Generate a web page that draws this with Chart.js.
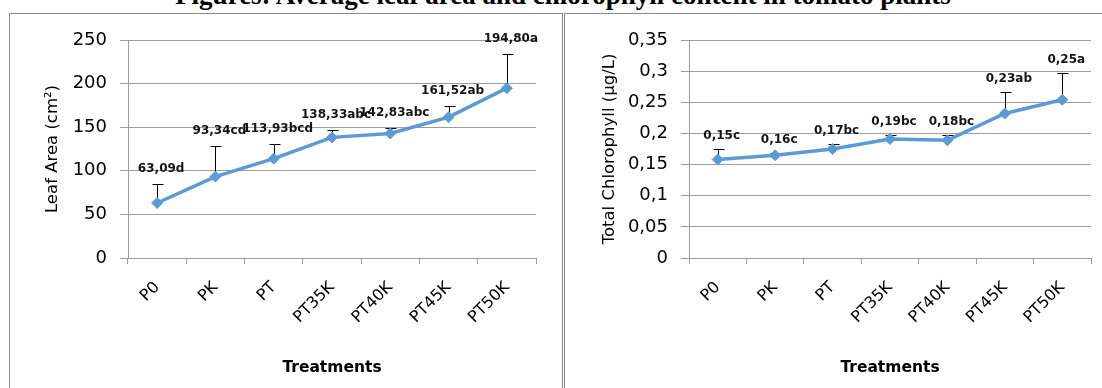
<!DOCTYPE html>
<html>
<head>
<meta charset="utf-8">
<script src="https://cdn.jsdelivr.net/npm/chart.js"></script>
<style>
  body { margin: 0; background: #fff; width: 1102px; height: 388px; overflow: hidden; position: relative; }
  .panel { position: absolute; top: 13px; height: 400px; border: 1px solid #8a8a8a; box-sizing: border-box; background: #fff; }
  #leftPanel { left: 9px; width: 554px; }
  #rightPanel { left: 564px; width: 560px; }
  #title { position: absolute; left: 12px; top: -18px; width: 1102px; text-align: center; white-space: nowrap;
           font: bold 27px "Liberation Serif", "Times New Roman", serif; line-height: 27px; }
  canvas { position: absolute; }
</style>
</head>
<body>
<div id="title">Figures: Average leaf area and chlorophyll content in tomato plants</div>
<div id="leftPanel" class="panel"></div>
<div id="rightPanel" class="panel"></div>
<canvas id="leafChart" width="552" height="374" style="left:10px;top:14px"></canvas>
<canvas id="chlChart" width="537" height="374" style="left:565px;top:14px"></canvas>
<script>
const treatments = ['P0', 'PK', 'PT', 'PT35K', 'PT40K', 'PT45K', 'PT50K'];

const leafArea = [63.09, 93.34, 113.93, 138.33, 142.83, 161.52, 194.80];
const leafErr = [22, 35, 17, 9, 6, 13, 39];
const leafLabels = ['63,09d', '93,34cd', '113,93bcd', '138,33abc', '142,83abc', '161,52ab', '194,80a'];

const chlorophyll = [0.158, 0.165, 0.175, 0.191, 0.189, 0.232, 0.254];
const chlErr = [0.017, 0.004, 0.008, 0.006, 0.008, 0.035, 0.043];
const chlLabels = ['0,15c', '0,16c', '0,17bc', '0,19bc', '0,18bc', '0,23ab', '0,25a'];

const FONT = '"DejaVu Sans", "Noto Sans", sans-serif';
const LINE_BLUE = '#5b9bd5';
const GRID = '#9c9c9c';

// upper error bars behind the line, letter labels on top
const errorBars = {
    id: 'errorBars',
    beforeDatasetsDraw(chart, args, opts) {
        const ctx = chart.ctx;
        const y = chart.scales.y;
        const values = chart.data.datasets[0].data;
        ctx.save();
        ctx.strokeStyle = '#000';
        ctx.lineWidth = 1;
        chart.getDatasetMeta(0).data.forEach((p, i) => {
            const top = Math.round(y.getPixelForValue(values[i] + opts.errors[i])) + 0.5;
            const x = Math.round(p.x) + 0.5;
            ctx.beginPath();
            ctx.moveTo(x, p.y);
            ctx.lineTo(x, top);
            ctx.moveTo(x - 5, top);
            ctx.lineTo(x + 6, top);
            ctx.stroke();
        });
        ctx.restore();
    },
    afterDatasetsDraw(chart, args, opts) {
        const ctx = chart.ctx;
        const y = chart.scales.y;
        const values = chart.data.datasets[0].data;
        ctx.save();
        ctx.fillStyle = '#141414';
        ctx.font = 'bold 12px ' + FONT;
        ctx.textAlign = 'center';
        ctx.textBaseline = 'middle';
        chart.getDatasetMeta(0).data.forEach((p, i) => {
            const top = y.getPixelForValue(values[i] + opts.errors[i]);
            ctx.fillText(opts.labels[i], p.x + 4, top - opts.gap);
        });
        ctx.restore();
    }
};

function commaNum(v) {
    return String(Math.round(v * 100) / 100).replace('.', ',');
}

function makeChart(id, values, errors, labels, yTitle, yMax, yStep, cfg) {
    const ctx = document.getElementById(id).getContext('2d');
    return new Chart(ctx, {
        type: 'line',
        data: {
            labels: treatments,
            datasets: [{
                data: values,
                borderColor: LINE_BLUE,
                backgroundColor: LINE_BLUE,
                borderWidth: 3.5,
                pointStyle: 'rectRot',
                pointRadius: 5.5,
                pointBorderWidth: 1,
                tension: 0,
                fill: false
            }]
        },
        options: {
            responsive: false,
            animation: false,
            events: [],
            layout: { padding: { top: 26, right: cfg.padRight, left: 0, bottom: 0 } },
            plugins: {
                legend: { display: false },
                tooltip: { enabled: false },
                errorBars: { errors: errors, labels: labels, gap: cfg.gap }
            },
            scales: {
                x: {
                    offset: true,
                    afterFit: s => { s.height = 130; },
                    grid: { offset: true, drawOnChartArea: false, color: GRID, tickLength: 6 },
                    border: { color: GRID },
                    ticks: {
                        minRotation: 45, maxRotation: 45, padding: 14, autoSkip: false,
                        color: '#000', font: { family: FONT, size: 16 }
                    },
                    title: {
                        display: true, text: 'Treatments', color: '#000',
                        font: { family: FONT, size: 15.5, weight: 'bold' },
                        padding: { top: 0, bottom: 11 }
                    }
                },
                y: {
                    min: 0,
                    max: yMax,
                    afterFit: s => { s.width = cfg.yWidth; },
                    grid: { color: GRID, tickLength: 8 },
                    border: { color: GRID },
                    ticks: {
                        stepSize: yStep, padding: 13, color: '#000',
                        font: { family: FONT, size: 18 },
                        callback: v => commaNum(v)
                    },
                    title: {
                        display: true, text: yTitle, color: '#000',
                        font: { family: FONT, size: 16.5 },
                        padding: { top: cfg.titleTop, bottom: 0 }
                    }
                }
            }
        },
        plugins: [errorBars]
    });
}

makeChart('leafChart', leafArea, leafErr, leafLabels, 'Leaf Area (cm²)', 250, 50,
    { yWidth: 118, padRight: 26, titleTop: 33, gap: 15 });
makeChart('chlChart', chlorophyll, chlErr, chlLabels, 'Total Chlorophyll (µg/L)', 0.35, 0.05,
    { yWidth: 124, padRight: 11, titleTop: 35, gap: 13 });
</script>
</body>
</html>
